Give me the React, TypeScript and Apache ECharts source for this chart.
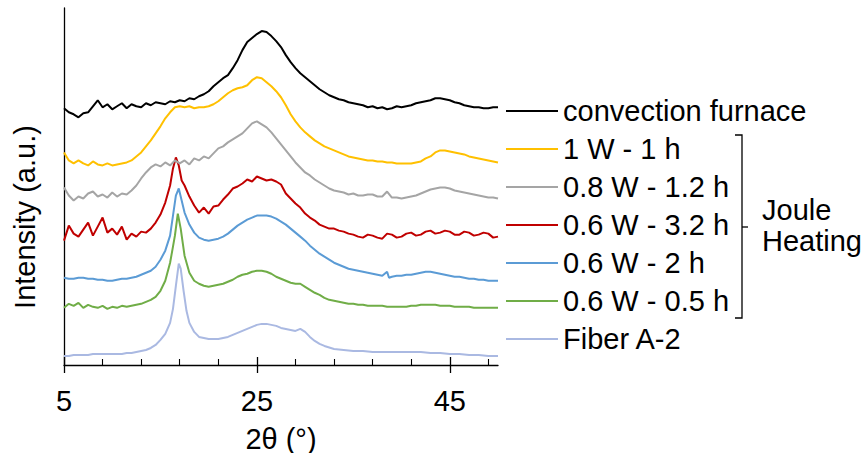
import React, { useEffect, useRef } from "react";
import * as echarts from "echarts";

const FONT = '"Liberation Sans", Arial, sans-serif';

const seriesNames = [
  "convection furnace",
  "1 W - 1 h",
  "0.8 W - 1.2 h",
  "0.6 W - 3.2 h",
  "0.6 W - 2 h",
  "0.6 W - 0.5 h",
  "Fiber A-2",
];
const seriesColors = ["#000000", "#FFC000", "#A5A5A5", "#C00000", "#5B9BD5", "#70AD47", "#AAB9E2"];

const majorTicks = [5, 25, 45];
const minorTicks = [9, 13, 17, 21, 29, 33, 37, 41, 49];

const convection = [
  [5, 256], [5.5, 252], [6, 250], [6.5, 247], [7, 251], [7.5, 252], [8, 258], [8.5, 264], [9, 257], [9.5, 260],
  [10, 255], [10.5, 258], [11, 261], [11.5, 256], [12, 260], [12.5, 258], [13, 257], [13.5, 261], [14, 259], [14.5, 262],
  [15, 261], [15.5, 260], [16, 263], [16.5, 262], [17, 264], [17.5, 263], [18, 266], [18.5, 265], [19, 268], [19.5, 270],
  [20, 273], [20.5, 278], [21, 282], [21.5, 286], [22, 289], [22.5, 296], [23, 304], [23.5, 314], [24, 322], [24.5, 326],
  [25, 330], [25.5, 333], [26, 332], [26.5, 328], [27, 323], [27.5, 317], [28, 309], [28.5, 302], [29, 296], [29.5, 291],
  [30, 287], [30.5, 283], [31, 279], [31.5, 275], [32, 272], [32.5, 269], [33, 267], [33.5, 265], [34, 264], [34.5, 262],
  [35, 261], [35.5, 260], [36, 259], [36.5, 257], [37, 258], [37.5, 256], [38, 257], [38.5, 255], [39, 256], [39.5, 258],
  [40, 257], [40.5, 258], [41, 259], [41.5, 261], [42, 262], [42.5, 263], [43, 264], [43.5, 266], [44, 266], [44.5, 265],
  [45, 264], [45.5, 262], [46, 261], [46.5, 259], [47, 258], [47.5, 257], [48, 257], [48.5, 256], [49, 256], [49.5, 257], [50, 257],
];

const w1h1 = [
  [5, 212], [5.5, 204], [6, 201], [6.5, 204], [7, 201], [7.5, 199], [8, 203], [8.5, 200], [9, 199], [9.5, 201],
  [10, 199], [10.5, 200], [11, 201], [11.5, 202], [12, 204], [12.5, 208], [13, 212], [13.5, 218], [14, 224], [14.5, 231],
  [15, 238], [15.5, 246], [16, 252], [16.5, 257], [17, 258], [17.5, 257], [18, 258], [18.5, 256], [19, 257], [19.5, 257],
  [20, 258], [20.5, 260], [21, 263], [21.5, 267], [22, 271], [22.5, 274], [23, 276], [23.5, 277], [24, 279], [24.5, 284],
  [25, 287], [25.5, 286], [26, 282], [26.5, 278], [27, 273], [27.5, 267], [28, 259], [28.5, 250], [29, 243], [29.5, 237],
  [30, 232], [30.5, 228], [31, 224], [31.5, 221], [32, 218], [32.5, 216], [33, 214], [33.5, 212], [34, 210], [34.5, 208],
  [35, 207], [35.5, 206], [36, 205], [36.5, 204], [37, 204], [37.5, 203], [38, 203], [38.5, 202], [39, 202], [39.5, 201],
  [40, 201], [40.5, 201], [41, 201], [41.5, 202], [42, 203], [42.5, 206], [43, 208], [43.5, 212], [44, 214], [44.5, 214],
  [45, 213], [45.5, 212], [46, 211], [46.5, 210], [47, 208], [47.5, 207], [48, 206], [48.5, 205], [49, 204], [49.5, 203], [50, 202],
];

const w08h12 = [
  [5, 177], [5.5, 169], [6, 164], [6.5, 168], [7, 166], [7.5, 171], [8, 173], [8.5, 168], [9, 170], [9.5, 167],
  [10, 172], [10.5, 168], [11, 171], [11.5, 170], [12, 174], [12.5, 179], [13, 186], [13.5, 192], [14, 197], [14.5, 200],
  [15, 198], [15.5, 202], [16, 199], [16.5, 204], [17, 201], [17.5, 204], [18, 200], [18.5, 206], [19, 204], [19.5, 208],
  [20, 206], [20.5, 211], [21, 216], [21.5, 218], [22, 222], [22.5, 225], [23, 228], [23.5, 231], [24, 236], [24.5, 241],
  [25, 243], [25.5, 240], [26, 237], [26.5, 232], [27, 226], [27.5, 220], [28, 214], [28.5, 208], [29, 202], [29.5, 197],
  [30, 192], [30.5, 189], [31, 185], [31.5, 182], [32, 179], [32.5, 176], [33, 174], [33.5, 173], [34, 172], [34.5, 170],
  [35, 171], [35.5, 169], [36, 169], [36.5, 170], [37, 170], [37.5, 168], [38, 168], [38.5, 173], [39, 167], [39.5, 167],
  [40, 166], [40.5, 167], [41, 168], [41.5, 169], [42, 171], [42.5, 173], [43, 175], [43.5, 176], [44, 177], [44.5, 177],
  [45, 176], [45.5, 174], [46, 173], [46.5, 172], [47, 171], [47.5, 170], [48, 169], [48.5, 168], [49, 167], [49.5, 167], [50, 166],
];

const w06h32 = [
  [5, 124], [5.5, 139], [6, 131], [6.5, 128], [7, 135], [7.5, 142], [8, 129], [8.5, 138], [9, 147], [9.5, 132],
  [10, 136], [10.5, 130], [11, 138], [11.5, 125], [12, 131], [12.5, 128], [13, 133], [13.5, 132], [14, 136], [14.5, 142],
  [15, 150], [15.5, 162], [16, 179], [16.3, 196], [16.6, 207], [16.9, 199], [17.2, 184], [17.5, 179], [18, 168], [18.5, 159],
  [19, 152], [19.5, 157], [20, 151], [20.5, 158], [21, 159], [21.5, 165], [22, 170], [22.5, 176], [23, 178], [23.5, 181],
  [24, 185], [24.5, 183], [25, 188], [25.5, 186], [26, 184], [26.5, 185], [27, 183], [27.5, 180], [28, 171], [28.5, 166],
  [29, 161], [29.5, 157], [30, 151], [30.5, 147], [31, 144], [31.5, 140], [32, 138], [32.5, 136], [33, 136], [33.5, 134],
  [34, 133], [34.5, 131], [35, 130], [35.5, 128], [36, 127], [36.5, 130], [37, 129], [37.5, 127], [38, 126], [38.5, 131],
  [39, 130], [39.5, 127], [40, 128], [40.5, 131], [41, 132], [41.5, 129], [42, 130], [42.5, 133], [43, 134], [43.5, 131],
  [44, 132], [44.5, 134], [45, 133], [45.5, 130], [46, 130], [46.5, 133], [47, 132], [47.5, 129], [48, 130], [48.5, 132],
  [49, 131], [49.5, 127], [50, 128],
];

const w06h2 = [
  [5, 87], [5.5, 86], [6, 86], [6.5, 87], [7, 87], [7.5, 86], [8, 86], [8.5, 85], [9, 85], [9.5, 84],
  [10, 84], [10.5, 85], [11, 86], [11.5, 86], [12, 87], [12.5, 88], [13, 90], [13.5, 92], [14, 94], [14.5, 98],
  [15, 105], [15.5, 114], [16, 129], [16.3, 149], [16.6, 169], [16.9, 176], [17.2, 164], [17.5, 152], [18, 140], [18.5, 132],
  [19, 127], [19.5, 125], [20, 124], [20.5, 125], [21, 126], [21.5, 128], [22, 131], [22.5, 135], [23, 139], [23.5, 142],
  [24, 145], [24.5, 147], [25, 149], [25.5, 149], [26, 149], [26.5, 148], [27, 146], [27.5, 143], [28, 140], [28.5, 136],
  [29, 132], [29.5, 128], [30, 124], [30.5, 119], [31, 115], [31.5, 111], [32, 108], [32.5, 105], [33, 102], [33.5, 100],
  [34, 98], [34.5, 96], [35, 95], [35.5, 94], [36, 93], [36.5, 92], [37, 91], [37.5, 90], [38, 89], [38.5, 93],
  [38.7, 87], [39, 88], [39.5, 89], [40, 89], [40.5, 90], [41, 90], [41.5, 91], [42, 92], [42.5, 93], [43, 93],
  [43.5, 92], [44, 91], [44.5, 90], [45, 89], [45.5, 88], [46, 88], [46.5, 87], [47, 86], [47.5, 86], [48, 85],
  [48.5, 85], [49, 84], [49.5, 84], [50, 84],
];

const w06h05 = [
  [5, 57], [5.5, 61], [6, 59], [6.5, 62], [7, 57], [7.5, 60], [8, 58], [8.5, 57], [9, 59], [9.5, 56],
  [10, 58], [10.5, 57], [11, 59], [11.5, 58], [12, 59], [12.5, 60], [13, 61], [13.5, 63], [14, 65], [14.5, 68],
  [15, 74], [15.5, 84], [16, 102], [16.3, 118], [16.5, 129], [16.8, 151], [17.1, 136], [17.5, 109], [18, 92], [18.5, 84],
  [19, 81], [19.5, 79], [20, 78], [20.5, 79], [21, 80], [21.5, 81], [22, 83], [22.5, 85], [23, 88], [23.5, 90],
  [24, 91], [24.5, 93], [25, 94], [25.5, 94], [26, 93], [26.5, 91], [27, 88], [27.5, 86], [28, 84], [28.5, 82],
  [29, 81], [29.5, 81], [30, 78], [30.5, 75], [31, 72], [31.5, 70], [32, 67], [32.5, 65], [33, 64], [33.5, 63],
  [34, 62], [34.5, 61], [35, 61], [35.5, 60], [36, 60], [36.5, 59], [37, 59], [37.5, 59], [38, 59], [38.5, 58],
  [39, 58], [39.5, 58], [40, 58], [40.5, 58], [41, 59], [41.5, 59], [42, 60], [42.5, 60], [43, 60], [43.5, 60],
  [44, 59], [44.5, 59], [45, 59], [45.5, 58], [46, 58], [46.5, 58], [47, 58], [47.5, 57], [48, 57], [48.5, 57],
  [49, 57], [49.5, 57], [50, 57],
];

const fiberA2 = [
  [5, 9], [5.5, 9], [6, 10], [6.5, 10], [7, 10], [7.5, 10], [8, 11], [8.5, 11], [9, 11], [9.5, 11],
  [10, 11], [10.5, 11], [11, 11], [11.5, 12], [12, 12], [12.5, 13], [13, 14], [13.5, 15], [14, 17], [14.5, 20],
  [15, 25], [15.5, 31], [16, 42], [16.3, 56], [16.6, 79], [16.9, 101], [17.1, 96], [17.4, 74], [17.7, 54], [18, 42],
  [18.5, 33], [19, 28], [19.5, 27], [20, 26], [20.5, 26], [21, 26], [21.5, 27], [22, 28], [22.5, 30], [23, 32],
  [23.5, 34], [24, 36], [24.5, 38], [25, 40], [25.5, 41], [26, 41], [26.5, 40], [27, 39], [27.5, 37], [28, 36],
  [28.5, 35], [29, 34], [29.5, 36], [30, 33], [30.5, 28], [31, 24], [31.5, 21], [32, 19], [33, 16], [34, 15],
  [35, 14], [36, 14], [37, 13], [38, 13], [39, 13], [40, 13], [41, 13], [42, 13], [43, 12], [44, 12],
  [45, 11], [46, 11], [47, 10], [48, 10], [49, 9], [50, 9],
];

const seriesData = [convection, w1h1, w08h12, w06h32, w06h2, w06h05, fiberA2];

export default function App() {
  const ref = useRef<HTMLDivElement>(null);
  useEffect(() => {
    if (!ref.current) return;
    const chart = echarts.init(ref.current, null, { renderer: "svg" });
    const hiddenAxisBase = {
      type: "value" as const,
      gridIndex: 0,
      min: 5,
      max: 50,
      position: "bottom" as const,
      axisLine: { show: false, onZero: false },
      axisLabel: { show: false },
      splitLine: { show: false },
    };
    chart.setOption({
      animation: false,
      backgroundColor: "#ffffff",
      textStyle: { fontFamily: FONT },
      grid: { left: 64, right: 365, top: 8, bottom: 88, containLabel: false, outerBoundsMode: "none" },
      xAxis: [
        {
          type: "value",
          gridIndex: 0,
          min: 5,
          max: 50,
          position: "bottom",
          name: "2θ (°)",
          nameLocation: "middle",
          nameGap: 59,
          nameTextStyle: { fontSize: 29, color: "#000", fontFamily: FONT },
          axisLine: { show: true, onZero: false, lineStyle: { color: "#000", width: 1.3 } },
          axisTick: { show: true, inside: true, length: 8, customValues: majorTicks, lineStyle: { color: "#000", width: 1.3 } },
          axisLabel: { show: true, customValues: majorTicks, margin: 21, fontSize: 29, color: "#000", fontFamily: FONT },
          splitLine: { show: false },
        },
        {
          ...hiddenAxisBase,
          axisTick: { show: true, inside: false, length: 8, customValues: majorTicks, lineStyle: { color: "#000", width: 1.3 } },
        },
        {
          ...hiddenAxisBase,
          axisTick: { show: true, inside: true, length: 6, customValues: minorTicks, lineStyle: { color: "#000", width: 1.1 } },
        },
      ],
      yAxis: {
        type: "value",
        gridIndex: 0,
        min: 0,
        max: 356,
        axisLine: { show: true, onZero: false, lineStyle: { color: "#000", width: 1.3 } },
        axisTick: { show: false },
        axisLabel: { show: false },
        splitLine: { show: false },
      },
      legend: {
        orient: "vertical",
        left: 506,
        top: 95,
        padding: 0,
        itemWidth: 52,
        itemHeight: 2,
        itemGap: 6,
        icon: "rect",
        selectedMode: false,
        data: seriesNames,
        textStyle: { fontSize: 29, lineHeight: 32, color: "#000", fontFamily: FONT },
      },
      series: seriesNames.map((name, i) => ({
        name,
        type: "line",
        xAxisIndex: 0,
        yAxisIndex: 0,
        data: seriesData[i],
        showSymbol: false,
        symbol: "none",
        color: seriesColors[i],
        lineStyle: { color: seriesColors[i], width: 2 },
        z: 10 - i,
      })),
      graphic: [
        {
          type: "polyline",
          shape: { points: [[735, 135], [742, 135], [742, 318], [735, 318]] },
          style: { stroke: "#000", lineWidth: 1.3, fill: null },
        },
        {
          type: "line",
          shape: { x1: 742, y1: 227, x2: 748, y2: 227 },
          style: { stroke: "#000", lineWidth: 1.3 },
        },
        {
          type: "text",
          x: 762,
          y: 225,
          style: {
            text: "Joule\nHeating",
            font: `29px ${FONT}`,
            lineHeight: 31,
            fill: "#000",
            textVerticalAlign: "middle",
          },
        },
        {
          type: "text",
          x: 25,
          y: 217,
          rotation: Math.PI / 2,
          style: {
            text: "Intensity (a.u.)",
            font: `29px ${FONT}`,
            fill: "#000",
            textAlign: "center",
            textVerticalAlign: "middle",
          },
        },
      ],
    });
    return () => chart.dispose();
  }, []);
  return <div ref={ref} style={{ width: 863, height: 453, position: "absolute", left: 0, top: 0 }} />;
}
